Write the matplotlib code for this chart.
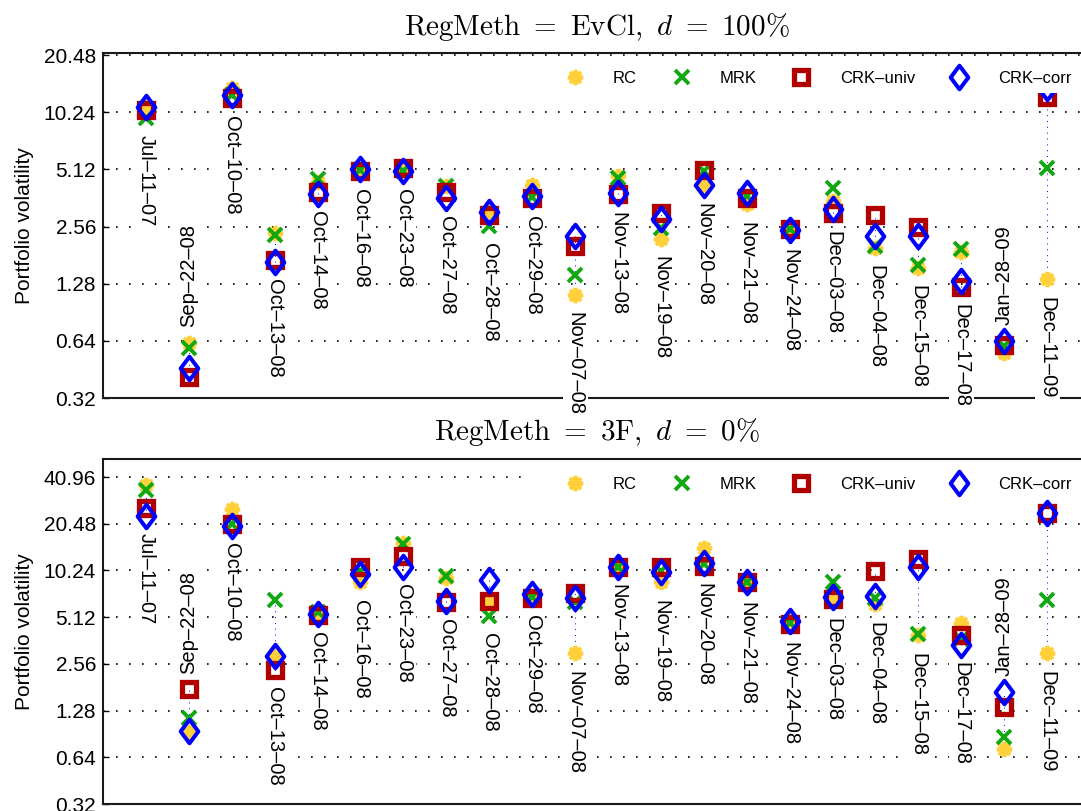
import numpy as np
import matplotlib
matplotlib.use("Agg")
import matplotlib.pyplot as plt
from matplotlib.path import Path
from matplotlib.markers import MarkerStyle
from matplotlib.patches import Rectangle
from matplotlib.ticker import NullLocator, FixedLocator, FixedFormatter

plt.rcParams['font.family'] = ['Liberation Sans', 'DejaVu Sans']
plt.rcParams['mathtext.fontset'] = 'cm'

# ---------------- data ----------------
dates = ['Jul\u201311\u201307', 'Sep\u201322\u201308', 'Oct\u201310\u201308', 'Oct\u201313\u201308',
         'Oct\u201314\u201308', 'Oct\u201316\u201308', 'Oct\u201323\u201308', 'Oct\u201327\u201308',
         'Oct\u201328\u201308', 'Oct\u201329\u201308', 'Nov\u201307\u201308', 'Nov\u201313\u201308',
         'Nov\u201319\u201308', 'Nov\u201320\u201308', 'Nov\u201321\u201308', 'Nov\u201324\u201308',
         'Dec\u201303\u201308', 'Dec\u201304\u201308', 'Dec\u201315\u201308', 'Dec\u201317\u201308',
         'Jan\u201328\u201309', 'Dec\u201311\u201309']
labels_up = ['Sep\u201322\u201308', 'Jan\u201328\u201309']

series_names = ['RC', 'MRK', 'CRK\u2013univ', 'CRK\u2013corr']

# Panel 1: RegMeth = EvCl, d = 100%
evcl_rc   = [10.9, 0.62, 13.8, 2.36, 4.4, 5.0, 5.05, 4.2, 3.1, 4.25, 1.12, 4.71, 2.2, 4.2, 3.35, 2.4, 3.5, 1.98, 1.55, 1.88, 0.55, 1.35]
evcl_mrk  = [9.6, 0.585, 12.6, 2.32, 4.58, 5.1, 5.0, 4.18, 2.58, 3.65, 1.42, 4.6, 2.5, 5.0, 3.72, 2.47, 4.1, 2.02, 1.6, 1.94, 0.6, 5.2]
evcl_univ = [10.57, 0.414, 12.1, 1.71, 3.87, 5.02, 5.2, 3.87, 2.96, 3.6, 2.03, 3.78, 3.0, 5.06, 3.6, 2.47, 3.0, 2.96, 2.56, 1.23, 0.612, 12.3]
evcl_corr = [10.88, 0.462, 12.6, 1.67, 3.8, 5.14, 5.0, 3.6, 3.05, 3.7, 2.29, 3.83, 2.8, 4.25, 3.85, 2.44, 3.15, 2.28, 2.28, 1.32, 0.64, 13.8]

# Panel 2: RegMeth = 3F, d = 0%
f3_rc   = [36.4, 0.93, 25.3, 2.9, 5.4, 8.6, 15.4, 9.2, 6.5, 7.0, 3.0, 11.2, 8.6, 14.2, 8.3, 4.9, 6.5, 6.2, 3.9, 4.7, 0.72, 3.0]
f3_mrk  = [33.8, 1.15, 20.4, 6.63, 5.5, 10.1, 15.2, 9.4, 5.2, 6.9, 6.4, 10.85, 10.1, 11.3, 8.6, 4.7, 8.6, 6.8, 4.0, 3.7, 0.87, 6.63]
f3_univ = [25.8, 1.75, 20.4, 2.35, 5.3, 10.85, 12.6, 6.4, 6.5, 6.8, 7.3, 10.85, 10.85, 11.0, 8.6, 4.6, 6.7, 10.1, 12.2, 3.9, 1.34, 24.1]
f3_corr = [23.1, 0.95, 19.8, 2.88, 5.35, 9.7, 10.8, 6.5, 8.9, 7.2, 6.8, 10.85, 9.95, 11.5, 8.6, 4.8, 6.9, 7.0, 10.7, 3.4, 1.68, 23.9]

titles = [r'$\mathrm{RegMeth}\ =\ \mathrm{EvCl},\ d\ =\ 100\%$',
          r'$\mathrm{RegMeth}\ =\ \mathrm{3F},\ d\ =\ 0\%$']
yticks_top = [0.32, 0.64, 1.28, 2.56, 5.12, 10.24, 20.48]
yticks_bot = [0.32, 0.64, 1.28, 2.56, 5.12, 10.24, 20.48, 40.96]
ylim_top = (0.32, 21.0)
ylim_bot = (0.32, 53.5)
ylabel = 'Portfolio volatility'

# ---------------- styles ----------------
yellow = '#FFD03A'
green = '#12A812'
red = '#B00000'
blue = '#0000FF'
diamond_path = Path([(0, 1), (0.75, 0), (0, -1), (-0.75, 0), (0, 1)],
                    [Path.MOVETO, Path.LINETO, Path.LINETO, Path.LINETO, Path.CLOSEPOLY])
styles = [
    dict(marker=MarkerStyle((8, 2, 0)), markersize=11, markeredgewidth=2.7, color=yellow),
    dict(marker='x', markersize=9.5, markeredgewidth=2.8, color=green),
    dict(marker=MarkerStyle('s', joinstyle='miter'), markersize=10, markeredgewidth=3.8,
         markeredgecolor=red, markerfacecolor='none', color=red),
    dict(marker=MarkerStyle(diamond_path, joinstyle='miter'), markersize=17, markeredgewidth=2.9,
         markeredgecolor=blue, markerfacecolor='none', color=blue),
]

W, H = 1081, 811
fig = plt.figure(figsize=(W / 100, H / 100), dpi=100)

ax_left, ax_right = 103, 1090
panels = [
    dict(top=53, bottom=398, data=[evcl_rc, evcl_mrk, evcl_univ, evcl_corr],
         yticks=yticks_top, ylim=ylim_top, title=titles[0], title_base=35),
    dict(top=459, bottom=804, data=[f3_rc, f3_mrk, f3_univ, f3_corr],
         yticks=yticks_bot, ylim=ylim_bot, title=titles[1], title_base=440),
]

x = np.arange(1, len(dates) + 1)

for p in panels:
    ax = fig.add_axes([ax_left / W, 1 - p['bottom'] / H,
                       (ax_right - ax_left) / W, (p['bottom'] - p['top']) / H])
    ax.set_yscale('log', base=2)
    ax.set_xlim(0, len(dates) + 1)
    ax.set_ylim(*p['ylim'])
    ax.yaxis.set_major_locator(FixedLocator(p['yticks']))
    ax.yaxis.set_major_formatter(FixedFormatter(['%.2f' % t for t in p['yticks']]))
    ax.yaxis.set_minor_locator(NullLocator())
    ax.set_xticks([])
    ax.tick_params(axis='y', direction='in', length=4, width=1.0, labelsize=15, pad=5)
    for s in ax.spines.values():
        s.set_linewidth(1.5)
        s.set_color('#1a1a1a')
        s.set_zorder(1.5)
    ax.yaxis.grid(True, linestyle=(0, (1, 6.8)), linewidth=1.2, color='black', zorder=0.5)
    ax.set_axisbelow(True)

    data = np.array(p['data'])
    lo = data.min(axis=0)
    hi = data.max(axis=0)
    ax.vlines(x, lo, hi, colors=blue, linestyles=(0, (1, 5)), linewidth=0.7, zorder=1.0)

    handles = []
    for k, (vals, st) in enumerate(zip(p['data'], styles)):
        ln, = ax.plot(x, vals, linestyle='none', label=series_names[k], zorder=2.1 + 0.1 * k, **st)
        handles.append(ln)

    for i, d in enumerate(dates):
        if d in labels_up:
            ax.annotate(d, (x[i], hi[i]), xytext=(0, 11.5), textcoords='offset points',
                        rotation=90, ha='center', va='bottom', fontsize=14.5, zorder=1.8,
                        bbox=dict(boxstyle='square,pad=0.15', fc='white', ec='none'))
        else:
            ax.annotate(d, (x[i], lo[i]), xytext=(0, -12.5), textcoords='offset points',
                        rotation=270, ha='center', va='top', fontsize=14.5, zorder=1.8,
                        bbox=dict(boxstyle='square,pad=0.15', fc='white', ec='none'))

    # legend background (white, no border)
    ax.add_patch(Rectangle((0.4296, 0.884), 0.6, 0.087, transform=ax.transAxes,
                           facecolor='white', edgecolor='none', zorder=4, clip_on=False))
    leg = ax.legend(handles=handles, loc='center left', bbox_to_anchor=(0.461, 0.9275),
                    ncol=4, frameon=False, fontsize=12, handlelength=2.0, handletextpad=1.3,
                    columnspacing=1.67, borderaxespad=0, borderpad=0, numpoints=1)
    leg.set_zorder(5)

    ax.set_ylabel(ylabel, fontsize=15)
    ax.yaxis.set_label_coords(-0.070, 0.5)

    fig.text((ax_left + ax_right) / 2 / W, 1 - p['title_base'] / H, p['title'],
             ha='center', va='baseline', fontsize=21)

fig.savefig('out.png', dpi=100)
